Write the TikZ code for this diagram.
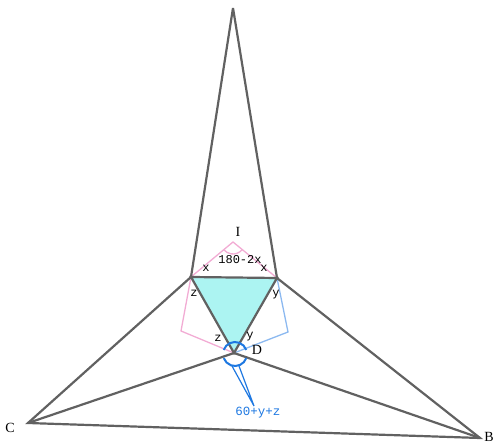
\documentclass[tikz,border=0pt]{standalone}
\usepackage{fontspec}
\setmainfont{Liberation Serif}
\newfontfamily\monof{Liberation Mono}
\definecolor{triFill}{RGB}{172,244,242}
\definecolor{pinkC}{RGB}{242,172,212}
\definecolor{lblue}{RGB}{140,185,240}
\definecolor{markBlue}{RGB}{30,120,225}
\begin{document}
\begin{tikzpicture}[x=1pt,y=-1pt,
  edge/.style={draw=black!62,line width=2.2pt},
  pinkln/.style={draw=pinkC,line width=1.3pt},
  blueln/.style={draw=lblue,line width=1.3pt},
  angmark/.style={draw=markBlue,line width=2pt},
  lab/.style={font=\monof\fontsize{12}{12}\selectfont,inner sep=0pt},
  caplab/.style={font=\fontsize{14}{14}\selectfont,inner sep=0pt}]
\useasboundingbox (0,0) rectangle (496,446);
\coordinate (A) at (233,8);
\coordinate (L) at (191,277);
\coordinate (R) at (277,278);
\coordinate (D) at (234,353);
\coordinate (O) at (235,354);
\coordinate (C) at (28,423);
\coordinate (B) at (480,438);
\coordinate (P) at (233,242);
\coordinate (Q1) at (181,331);
\coordinate (Q2) at (288,332);
\coordinate (M1) at (232,366);
\coordinate (M2) at (239,366);
\coordinate (M3) at (254,406);
\fill[triFill] (L) -- (R) -- (D) -- cycle;
\draw[pinkln] (L) -- (P) -- (R);
\draw[pinkln] (P) ++(39:12) arc (39:140:12);
\draw[pinkln] (L) -- (Q1) -- (D);
\draw[blueln] (R) -- (Q2) -- (D);
\draw[edge] (A) -- (L) -- (C) -- (B) -- (R) -- (A);
\draw[edge] (L) -- (R) -- (D) -- cycle;
\draw[edge] (C) -- (D) -- (B);
\draw[angmark] (O) ++(20:12) arc (20:160:12);
\draw[angmark] (O) ++(200:12) arc (200:340:12);
\draw[angmark,line width=1.2pt] (M1) -- (M3) -- (M2);
\node[caplab] (I) at (238,232) {I};
\node[lab] (t1) at (240,260) {180-2x};
\node[lab] (x1) at (206,268) {x};
\node[lab] (x2) at (264,268) {x};
\node[lab] (z1) at (194,293) {z};
\node[lab] (y1) at (276,295) {y};
\node[lab] (z2) at (218,338) {z};
\node[lab] (y2) at (250,337) {y};
\node[caplab] (Dl) at (257,350) {D};
\node[caplab] (Cl) at (10,428) {C};
\node[caplab] (Bl) at (489,437) {B};
\node[lab,text=markBlue,font=\monof\fontsize{12.5}{12.5}\selectfont] (ang) at (258,413) {60+y+z};
\end{tikzpicture}
\end{document}
